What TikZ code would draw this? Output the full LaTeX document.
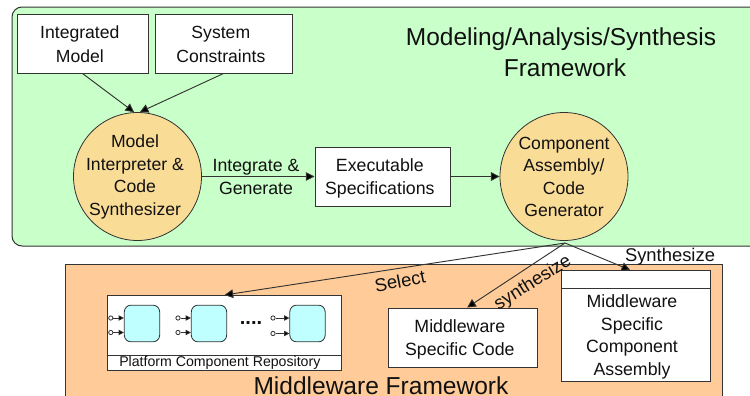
\documentclass[tikz,border=0pt]{standalone}
\usepackage{fontspec}
\setmainfont{Liberation Sans}
\usetikzlibrary{arrows.meta}
\definecolor{greenbg}{HTML}{C9FFC9}
\definecolor{orangebg}{HTML}{FFCC99}
\definecolor{circlefill}{HTML}{F9DC96}
\definecolor{compfill}{HTML}{BFFFFF}
\definecolor{edge}{HTML}{333333}
\definecolor{ink}{HTML}{111111}
\newcommand\dnone{\rule{0pt}{11pt}}
\newcommand\dntwo{\rule{0pt}{12.5pt}}
\newcommand\lft{\hspace*{4pt}}
\tikzset{
  every node/.style={text=ink},
  area/.style={draw=edge,line width=.75pt,inner sep=0pt},
  whitebox/.style={draw=edge,line width=.75pt,fill=white,inner sep=0pt,minimum width=#1,align=center},
  proc/.style={draw=edge,line width=.6pt,circle,fill=circlefill,inner sep=0pt,minimum size=96pt,align=center},
  proctext/.style={font=\fontsize{13.2}{16.9}\selectfont,align=center,inner sep=0pt},
  lbl/.style={font=\fontsize{13.3}{17.2}\selectfont,align=center,inner sep=0pt},
  edgelbl/.style={font=\fontsize{13.8}{17}\selectfont,inner sep=0pt},
  conn/.style={draw=edge,line width=.7pt,-{Triangle[length=6.5pt,width=6.5pt,fill=black]}},
  comp/.style={draw=edge,line width=.6pt,fill=compfill,rounded corners=5pt,minimum width=26.5pt,minimum height=27.5pt,inner sep=0pt},
  pin/.style={circle,draw=edge,fill=white,line width=.6pt,minimum size=3.2pt,inner sep=0pt},
  pinline/.style={draw=edge,line width=.6pt,-{Triangle[length=4pt,width=4pt,fill=black]}},
  bar/.style={draw=edge,line width=.75pt,fill=white}
}
\begin{document}
\begin{tikzpicture}[x=0.75pt,y=-0.75pt]
\useasboundingbox (0,0) rectangle (750,396);
\clip (0,0) rectangle (750,396);
\fill[white] (0,0) rectangle (750,396);
% areas
\draw[area,fill=greenbg,rounded corners=7.5pt] (12,7) rectangle (770,246);
\draw[area,fill=orangebg] (65,264) rectangle (722,410);
% top boxes
\node[whitebox=98.25pt,minimum height=44.25pt,font=\fontsize{13.2}{18}\selectfont] (model) at (82.5,43.5) {\dnone Integrated\lft\\Model\lft};
\node[whitebox=102.75pt,minimum height=44.25pt,font=\fontsize{13.2}{18}\selectfont] (constraints) at (223.5,43.5) {\dnone System\lft\\Constraints\lft};
\node[proc] (interp) at (137.5,176.5) {};
\node[proctext] (interptext) at (135,177) {Model\\Interpreter \&\\Code\\Synthesizer};
\node[proc] (gen) at (564,176.5) {};
\node[proctext] (gentext) at (564,177) {Component\\Assembly/\\Code\\Generator};
\node[whitebox=101.25pt,minimum height=44.25pt,font=\fontsize{13.3}{17.2}\selectfont] (exec) at (382.5,176.5) {\dntwo Executable\lft\\Specifications\lft};
% title
\node[font=\fontsize{18.35}{23.2}\selectfont,align=center,inner sep=0pt] (title) at (561,52) {Modeling/Analysis/Synthesis\\\hspace*{6pt}Framework};
\node[lbl] (ig) at (256,177) {Integrate \&\\Generate};
\draw[conn] (model.south) -- (interp.93);
\draw[conn] (constraints.south) -- (interp.88);
\draw[conn] (interp) -- (exec);
\draw[conn] (exec) -- (gen);
% repository
\node[whitebox=175.5pt,minimum height=56.25pt,anchor=north west] (repo) at (107,295) {};
\node[bar,anchor=south,minimum width=175.5pt,minimum height=11.25pt,inner sep=0pt,font=\fontsize{10.6}{11}\selectfont] (repolabel) at (repo.south) {Platform Component Repository\hspace*{7pt}};
\node[comp] (c1) at (142,323.5) {};
\node[comp] (c2) at (209,323.5) {};
\node[comp] (c3) at (307.5,323.5) {};
\node[pin] (p1a) at (110.8,318) {};
\node[pin] (p1b) at (110.8,332.5) {};
\node[pin] (p2a) at (178,318) {};
\node[pin] (p2b) at (178,332.5) {};
\node[pin] (p3a) at (273,318) {};
\node[pin] (p3b) at (273,333.5) {};
\foreach \p/\c in {p1a/c1,p1b/c1,p2a/c2,p2b/c2,p3a/c3,p3b/c3}
  \draw[pinline] (\p) -- (\c.west |- \p);
\node[font=\fontsize{15}{15}\selectfont\bfseries,inner sep=0pt] (dots) at (251,323) {....};
% code boxes
\node[whitebox=111.75pt,minimum height=44.25pt,font=\fontsize{13.3}{17.2}\selectfont] (code) at (462.5,337.5) {\dntwo Middleware\lft\\Specific Code\lft};
\node[whitebox=111.75pt,minimum height=83.25pt,anchor=north] (asm) at (635.5,270) {};
\node[bar,anchor=north,minimum width=111.75pt,minimum height=13.5pt,inner sep=0pt] (asmbar) at (asm.north) {};
\node[lbl,font=\fontsize{13.3}{17}\selectfont] (asmtext) at (632,337) {Middleware\\Specific\\Component\\Assembly};
% fan-out
\coordinate (fan) at (565,243);
\draw[conn] (fan) -- (repo.north);
\draw[conn] (fan) -- ([xshift=3.5pt]code.north);
\draw[conn] (fan) -- ([xshift=-4pt]asm.north);
% labels
\node[edgelbl,rotate=11] (sel) at (400,281) {Select};
\node[edgelbl,rotate=32] (syn1) at (533,283) {synthesize};
\node[edgelbl] (syn2) at (670,257) {Synthesize};
\node[font=\fontsize{18.4}{20}\selectfont,inner sep=0pt] (mf) at (381,386) {Middleware Framework};
\end{tikzpicture}
\end{document}
